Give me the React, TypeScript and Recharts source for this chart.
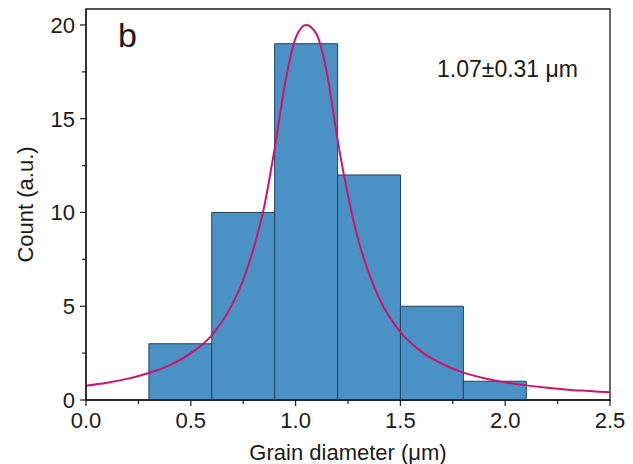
import { ComposedChart, Bar, Line, XAxis, YAxis, Label, ReferenceArea } from 'recharts'

// histogram bins (bin centres, width 0.3 um)
const binCenters = [0.45, 0.75, 1.05, 1.35, 1.65, 1.95]
const counts = [3, 10, 19, 12, 5, 1]

// fitted curve
const fitX = [0, 0.1, 0.2, 0.3, 0.4, 0.5, 0.6, 0.7, 0.75, 0.8, 0.85, 0.9, 0.95, 1.0, 1.05, 1.1, 1.15, 1.2, 1.25, 1.3, 1.35, 1.4, 1.5, 1.6, 1.7, 1.8, 1.9, 2.0, 2.1, 2.2, 2.3, 2.4, 2.5]
const fitY = [0.76, 0.92, 1.14, 1.44, 1.86, 2.5, 3.45, 5.15, 6.4, 8.1, 10.3, 13.4, 16.9, 19.3, 20.0, 19.5, 17.4, 13.9, 10.9, 8.5, 6.75, 5.4, 3.62, 2.58, 1.92, 1.46, 1.16, 0.94, 0.78, 0.65, 0.55, 0.48, 0.41]

// ticks incl. minor ones; labels only on the major ones
const xTicks = [0, 0.25, 0.5, 0.75, 1.0, 1.25, 1.5, 1.75, 2.0, 2.25, 2.5]
const xMajor = [0, 0.5, 1.0, 1.5, 2.0, 2.5]
const yTicks = [0, 2.5, 5, 7.5, 10, 12.5, 15, 17.5, 20]
const yMajor = [0, 5, 10, 15, 20]
const X_MAX = 2.5
const Y_MAX = 20.85

const FONT = '"Liberation Sans", Arial, sans-serif'
const INK = '#1a1a1a'

const bins = binCenters.map((x, i) => ({ x, count: counts[i] }))
const fit = fitX.map((x, i) => ({ x, y: fitY[i] }))

function XTick(props: any) {
  const { x, y, payload } = props
  const major = xMajor.includes(payload.value)
  return (
    <g>
      <line x1={x} x2={x} y1={y} y2={y + (major ? 6 : 4)} stroke={INK} strokeWidth={1.2} />
      {major && (
        <text x={x} y={y + 28} textAnchor="middle" fontSize={22} fontFamily={FONT} fill={INK}>
          {payload.value.toFixed(1)}
        </text>
      )}
    </g>
  )
}

function YTick(props: any) {
  const { x, y, payload } = props
  const major = yMajor.includes(payload.value)
  return (
    <g>
      <line x1={x} x2={x - (major ? 6 : 4)} y1={y} y2={y} stroke={INK} strokeWidth={1.2} />
      {major && (
        <text x={x - 11} y={y + 8} textAnchor="end" fontSize={22} fontFamily={FONT} fill={INK}>
          {payload.value}
        </text>
      )}
    </g>
  )
}

export default function App() {
  return (
    <div style={{ position: 'absolute', left: 0, top: 0, background: '#fff' }}>
      <ComposedChart width={633} height={464} data={bins} margin={{ top: 9, right: 23, left: 0, bottom: 0 }}
        barCategoryGap={0} barGap={0}>
        <XAxis xAxisId="curve" dataKey="x" type="number" domain={[0, X_MAX]} hide height={0} />
        <XAxis xAxisId="main" dataKey="x" type="number" domain={[0, X_MAX]} ticks={xTicks} interval={0}
          height={64} tickSize={0} tickMargin={0} tickLine={false} tick={<XTick />}
          axisLine={{ stroke: INK, strokeWidth: 1.3 }}>
          <Label value="Grain diameter (μm)" position="insideBottom" offset={4}
            style={{ fontSize: 22, fontFamily: FONT, fill: INK }} />
        </XAxis>
        <YAxis yAxisId="left" type="number" domain={[0, Y_MAX]} ticks={yTicks} interval={0} width={86}
          tickSize={0} tickMargin={0} tickLine={false} tick={<YTick />}
          axisLine={{ stroke: INK, strokeWidth: 1.3 }}>
          <Label value="Count (a.u.)" angle={-90} position="insideLeft" offset={25}
            style={{ fontSize: 22, fontFamily: FONT, fill: INK, textAnchor: 'middle' }} />
        </YAxis>
        <Bar xAxisId="main" yAxisId="left" dataKey="count" fill="#4a92c5" stroke="#23415f" strokeWidth={1}
          isAnimationActive={false} />
        <Line xAxisId="curve" yAxisId="left" data={fit} dataKey="y" type="monotone" stroke="#d0126f"
          strokeWidth={2} dot={false} activeDot={false} isAnimationActive={false} />
        {/* plot frame */}
        <ReferenceArea xAxisId="main" yAxisId="left" x1={0} x2={X_MAX} y1={0} y2={Y_MAX}
          fill="none" stroke={INK} strokeWidth={1.3} ifOverflow="visible" />
        <text x={118} y={47} fontSize={34} fontFamily={FONT} fill={INK}>b</text>
        <text x={437} y={77} fontSize={23} fontFamily={FONT} fill={INK}>1.07±0.31 μm</text>
      </ComposedChart>
    </div>
  )
}
